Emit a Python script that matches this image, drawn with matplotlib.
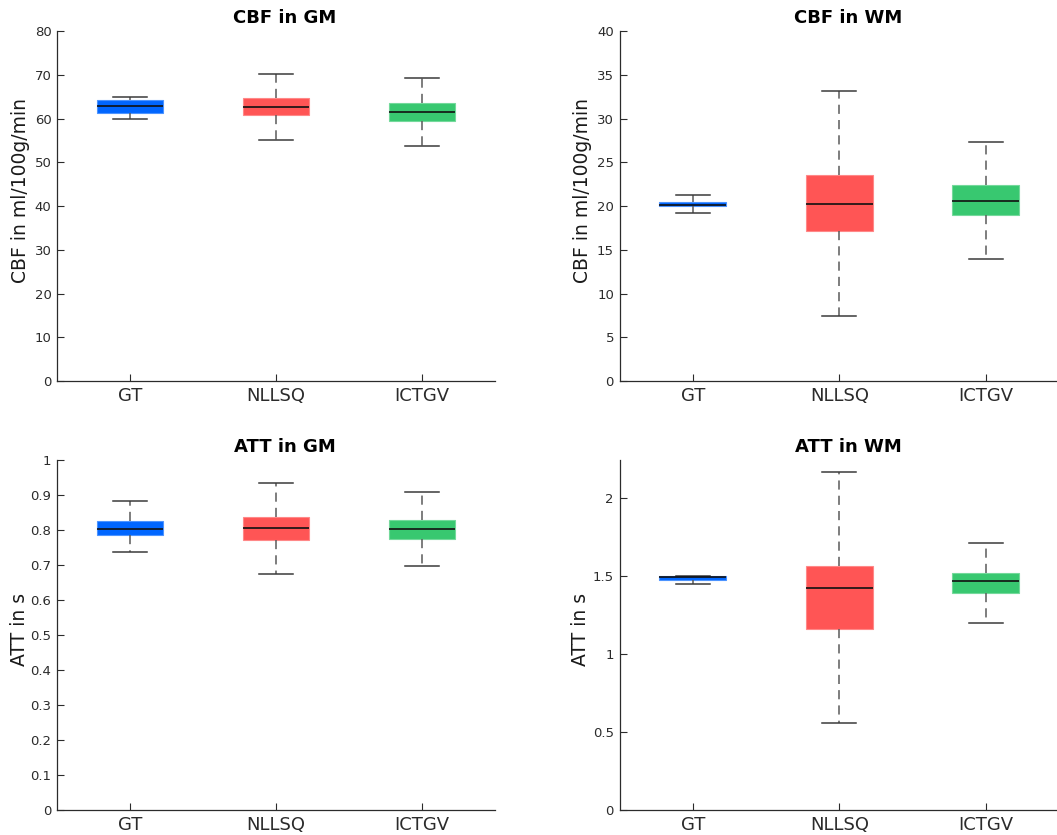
import matplotlib
matplotlib.use("Agg")
import matplotlib.pyplot as plt
from matplotlib.ticker import FuncFormatter

# Methods compared in every panel
methods = ["GT", "NLLSQ", "ICTGV"]
box_colors = ["#0066FF", "#FF5555", "#38C870"]
edge_colors = ["#4D94FF", "#FF8888", "#74D99B"]

# Box statistics per panel: lower whisker, Q1, median, Q3, upper whisker
cbf_gm_low = [60.0, 55.2, 53.7]
cbf_gm_q1 = [61.2, 60.7, 59.5]
cbf_gm_med = [62.8, 62.7, 61.6]
cbf_gm_q3 = [64.2, 64.6, 63.5]
cbf_gm_high = [65.0, 70.2, 69.3]

cbf_wm_low = [19.2, 7.47, 13.98]
cbf_wm_q1 = [19.96, 17.1, 18.93]
cbf_wm_med = [20.1, 20.2, 20.53]
cbf_wm_q3 = [20.5, 23.6, 22.36]
cbf_wm_high = [21.3, 33.2, 27.35]

att_gm_low = [0.738, 0.674, 0.697]
att_gm_q1 = [0.785, 0.771, 0.775]
att_gm_med = [0.802, 0.805, 0.802]
att_gm_q3 = [0.826, 0.836, 0.830]
att_gm_high = [0.884, 0.933, 0.908]

att_wm_low = [1.45, 0.560, 1.202]
att_wm_q1 = [1.476, 1.164, 1.390]
att_wm_med = [1.497, 1.425, 1.470]
att_wm_q3 = [1.502, 1.568, 1.521]
att_wm_high = [1.502, 2.171, 1.714]

panels = [
    dict(title="CBF in GM", ylabel="CBF in ml/100g/min", ylim=(0, 80), yticks=list(range(0, 81, 10)),
         low=cbf_gm_low, q1=cbf_gm_q1, med=cbf_gm_med, q3=cbf_gm_q3, high=cbf_gm_high,
         rect=(57, 31, 495, 381), label_xy=(-0.0833, 0.543)),
    dict(title="CBF in WM", ylabel="CBF in ml/100g/min", ylim=(0, 40), yticks=list(range(0, 41, 5)),
         low=cbf_wm_low, q1=cbf_wm_q1, med=cbf_wm_med, q3=cbf_wm_q3, high=cbf_wm_high,
         rect=(619.5, 31, 1059, 381), label_xy=(-0.0842, 0.543)),
    dict(title="ATT in GM", ylabel="ATT in s", ylim=(0, 1), yticks=[i / 10 for i in range(11)],
         low=att_gm_low, q1=att_gm_q1, med=att_gm_med, q3=att_gm_q3, high=att_gm_high,
         rect=(57, 460, 495, 810), label_xy=(-0.0856, 0.516)),
    dict(title="ATT in WM", ylabel="ATT in s", ylim=(0, 2.246), yticks=[0, 0.5, 1, 1.5, 2],
         low=att_wm_low, q1=att_wm_q1, med=att_wm_med, q3=att_wm_q3, high=att_wm_high,
         rect=(619.5, 460, 1059, 810), label_xy=(-0.0876, 0.516)),
]

W, H = 1057, 835
fig = plt.figure(figsize=(W / 100, H / 100), dpi=100)
fig.patch.set_facecolor("white")

axis_color = "#2b2b2b"

for p in panels:
    x0, y0, x1, y1 = p["rect"]
    ax = fig.add_axes([x0 / W, 1 - y1 / H, (x1 - x0) / W, (y1 - y0) / H])
    stats = []
    for i, name in enumerate(methods):
        stats.append(dict(label=name, whislo=p["low"][i], q1=p["q1"][i], med=p["med"][i],
                          q3=p["q3"][i], whishi=p["high"][i], fliers=[]))
    bp = ax.bxp(stats, positions=[1, 2, 3], widths=0.457, capwidths=0.23,
                patch_artist=True, showfliers=False,
                medianprops=dict(color="#111111", linewidth=1.2),
                whiskerprops=dict(color="#5a5a5a", linewidth=1.1, linestyle=(0, (6, 4))),
                capprops=dict(color="#3a3a3a", linewidth=1.1),
                boxprops=dict(linewidth=0.8))
    for patch, fc, ec in zip(bp["boxes"], box_colors, edge_colors):
        patch.set_facecolor(fc)
        patch.set_edgecolor(ec)
    for m in bp["medians"]:
        m.set_zorder(4)

    ax.set_xlim(0.5, 3.5)
    ax.set_ylim(*p["ylim"])
    ax.set_yticks(p["yticks"])
    ax.yaxis.set_major_formatter(FuncFormatter(lambda v, pos: f"{v:g}"))
    ax.set_xticks([1, 2, 3])
    ax.set_xticklabels(methods)
    ax.tick_params(axis="x", direction="in", length=5, width=0.8, colors=axis_color,
                   labelsize=13, pad=4)
    ax.tick_params(axis="y", direction="in", length=5, width=0.8, colors=axis_color,
                   labelsize=9.5, pad=4)
    for side in ("top", "right"):
        ax.spines[side].set_visible(False)
    for side in ("left", "bottom"):
        ax.spines[side].set_color(axis_color)
        ax.spines[side].set_linewidth(0.9)
    ax.set_ylabel(p["ylabel"], fontsize=13.5, color="#1a1a1a", va="center")
    ax.yaxis.set_label_coords(*p["label_xy"])
    ax.text(0.52, 1.011, p["title"], transform=ax.transAxes, ha="center", va="bottom",
            fontsize=13, fontweight="bold", color="black")

fig.savefig("out.png", dpi=100, facecolor="white")
